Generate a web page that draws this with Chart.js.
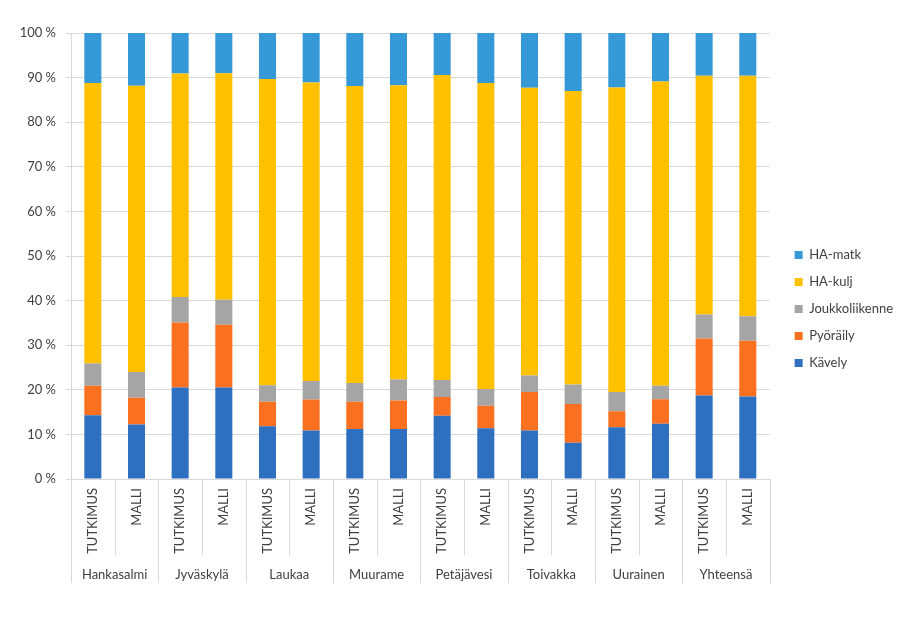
<!DOCTYPE html>
<html>
<head>
<meta charset="utf-8">
<script src="https://cdn.jsdelivr.net/npm/chart.js@4/dist/chart.umd.min.js"></script>
<style>
  html, body { margin: 0; padding: 0; background: #ffffff; }
  #wrap { width: 911px; height: 619px; position: relative; }
</style>
</head>
<body>
<div id="wrap"><canvas id="c"></canvas></div>
<script>
const categories = ['TUTKIMUS','MALLI','TUTKIMUS','MALLI','TUTKIMUS','MALLI','TUTKIMUS','MALLI',
                    'TUTKIMUS','MALLI','TUTKIMUS','MALLI','TUTKIMUS','MALLI','TUTKIMUS','MALLI'];
const groups = ['Hankasalmi','Jyväskylä','Laukaa','Muurame','Petäjävesi','Toivakka','Uurainen','Yhteensä'];
const yTicks = [0,10,20,30,40,50,60,70,80,90,100];

const kavely         = [14.3,12.2,20.5,20.5,11.8,10.9,11.2,11.2,14.2,11.4,10.9, 8.1,11.6,12.4,18.7,18.5];
const pyoraily       = [ 6.6, 6.0,14.6,14.1, 5.5, 6.9, 6.1, 6.4, 4.2, 5.0, 8.6, 8.7, 3.6, 5.5,12.8,12.5];
const joukkoliikenne = [ 5.0, 5.8, 5.7, 5.6, 3.7, 4.2, 4.2, 4.7, 3.8, 3.8, 3.7, 4.4, 4.3, 3.0, 5.4, 5.5];
const haKulj         = [62.9,64.2,50.1,50.8,68.7,66.9,66.6,66.0,68.4,68.6,64.5,65.8,68.3,68.2,53.5,53.9];
const haMatk         = [11.2,11.8, 9.1, 9.0,10.3,11.1,11.9,11.7, 9.4,11.2,12.3,13.0,12.2,10.9, 9.6, 9.6];

const FONT = 'Lato, "Open Sans", "Liberation Sans", sans-serif';
const TEXT = '#404040';
const GRID = '#d9d9d9';

const groupAxisPlugin = {
  id: 'groupAxis',
  afterDraw(chart) {
    const x = chart.scales.x;
    const ctx = chart.ctx;
    const yTop = chart.chartArea.bottom;
    const step = x.getPixelForValue(1) - x.getPixelForValue(0);
    ctx.save();
    ctx.strokeStyle = GRID;
    ctx.lineWidth = 1;
    for (let i = 0; i <= categories.length; i++) {
      const px = Math.round(x.getPixelForValue(i) - step / 2) + 0.5;
      const len = (i % 2 === 0) ? 104 : 76;
      ctx.beginPath();
      ctx.moveTo(px, yTop);
      ctx.lineTo(px, yTop + len);
      ctx.stroke();
    }
    ctx.fillStyle = TEXT;
    ctx.font = '13px ' + FONT;
    ctx.textAlign = 'center';
    ctx.textBaseline = 'middle';
    groups.forEach((g, k) => {
      const cx = (x.getPixelForValue(2 * k) + x.getPixelForValue(2 * k + 1)) / 2;
      ctx.fillText(g, cx, yTop + 96);
    });
    ctx.restore();
  }
};

const ds = (label, data, color) => ({
  label, data, backgroundColor: color, borderWidth: 0,
  barPercentage: 0.39, categoryPercentage: 1.0
});

new Chart(document.getElementById('c'), {
  type: 'bar',
  data: {
    labels: categories,
    datasets: [
      ds('Kävely', kavely, '#2e6fc0'),
      ds('Pyöräily', pyoraily, '#fa7021'),
      ds('Joukkoliikenne', joukkoliikenne, '#a5a5a5'),
      ds('HA-kulj', haKulj, '#ffc000'),
      ds('HA-matk', haMatk, '#3598d7')
    ]
  },
  options: {
    responsive: true,
    maintainAspectRatio: false,
    animation: false,
    layout: { padding: { top: 33, right: 8, left: 0, bottom: 34 } },
    plugins: {
      tooltip: { enabled: false },
      legend: {
        position: 'right',
        reverse: true,
        labels: {
          boxWidth: 8, boxHeight: 8, padding: 14,
          color: TEXT,
          font: { family: FONT, size: 13 }
        }
      }
    },
    scales: {
      x: {
        stacked: true,
        grid: { display: false, drawOnChartArea: false, drawTicks: false },
        border: { display: true, color: GRID },
        ticks: {
          minRotation: 90, maxRotation: 90, autoSkip: false, padding: 9,
          color: TEXT, font: { family: FONT, size: 13 }
        },
        afterFit(scale) { scale.height = 106; }
      },
      y: {
        stacked: true,
        min: 0, max: 100,
        afterBuildTicks(scale) { scale.ticks = yTicks.map(v => ({ value: v })); },
        grid: { color: GRID, tickLength: 5 },
        border: { display: true, color: GRID },
        ticks: {
          padding: 10, color: TEXT, font: { family: FONT, size: 13 },
          callback: v => v + ' %'
        },
        afterFit(scale) { scale.width = 71; }
      },
      gap: {
        type: 'linear',
        position: 'right',
        grid: { display: false, drawTicks: false },
        border: { display: false },
        ticks: { display: false },
        afterFit(scale) { scale.width = 11; }
      }
    }
  },
  plugins: [groupAxisPlugin]
});
</script>
</body>
</html>
